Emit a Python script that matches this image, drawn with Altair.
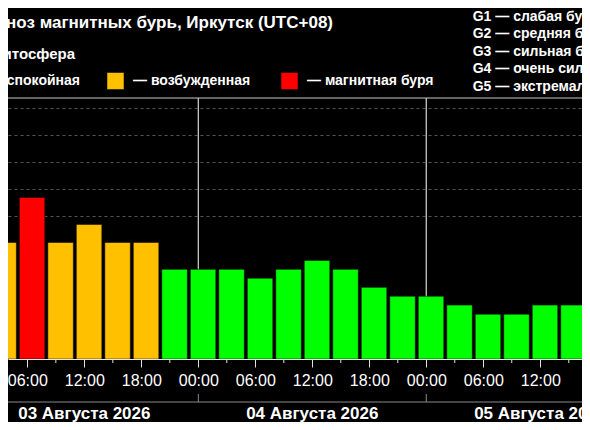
import altair as alt
import pandas as pd

# ---------------- data ----------------
TITLE = "Прогноз магнитных бурь, Иркутск (UTC+08)"
SUBTITLE = "Магнитосфера"
legend_labels = ["— спокойная", "— возбужденная", "— магнитная буря"]
level_names = ["calm", "active", "storm"]
level_fill = ["#00ff00", "#ffc000", "#ff0000"]
g_scale = [
    "G1 — слабая буря",
    "G2 — средняя буря",
    "G3 — сильная буря",
    "G4 — очень сильная буря",
    "G5 — экстремальная буря",
]

# start of each 3-hour interval (local time, UTC+08)
bar_start = [
    "2026-08-03T02:00:00", "2026-08-03T05:00:00", "2026-08-03T08:00:00",
    "2026-08-03T11:00:00", "2026-08-03T14:00:00", "2026-08-03T17:00:00",
    "2026-08-03T20:00:00", "2026-08-03T23:00:00", "2026-08-04T02:00:00",
    "2026-08-04T05:00:00", "2026-08-04T08:00:00", "2026-08-04T11:00:00",
    "2026-08-04T14:00:00", "2026-08-04T17:00:00", "2026-08-04T20:00:00",
    "2026-08-04T23:00:00", "2026-08-05T02:00:00", "2026-08-05T05:00:00",
    "2026-08-05T08:00:00", "2026-08-05T11:00:00", "2026-08-05T14:00:00",
]
kp = [4.0, 5.67, 4.0, 4.67, 4.0, 4.0, 3.0, 3.0, 3.0, 2.67, 3.0,
      3.33, 3.0, 2.33, 2.0, 2.0, 1.67, 1.33, 1.33, 1.67, 1.67]

day_start = ["2026-08-03T00:00:00", "2026-08-04T00:00:00", "2026-08-05T00:00:00"]
day_labels = ["03 Августа 2026", "04 Августа 2026", "05 Августа 2026"]
grid_kp = [5, 6, 7, 8, 9]
major_tick_first = "2026-08-03T06:00:00"
major_tick_last = "2026-08-05T12:00:00"
minor_tick_first = "2026-08-03T03:00:00"
minor_tick_last = "2026-08-05T15:00:00"
view_start = "2026-08-03T04:29:24"
view_end = "2026-08-05T15:52:06"

FONT = "Liberation Sans"
W, H = 574, 261


def iso(ts):
    return ts.strftime("%Y-%m-%dT%H:%M:%SZ")


def ms(ts):
    return int(pd.Timestamp(ts).value // 10**6)


starts = pd.to_datetime(bar_start)
centers = [iso(s + pd.Timedelta(hours=1.5)) for s in starts]
levels = ["calm" if v < 4 else ("active" if v < 5 else "storm") for v in kp]

days = pd.to_datetime(day_start)
day_lines = [iso(d) for d in days]
day_noon = [iso(d + pd.Timedelta(hours=12)) for d in days]

major_ticks = [ms(t) for t in pd.date_range(major_tick_first, major_tick_last, freq="6h")]
minor_ticks = [iso(t) for t in pd.date_range(minor_tick_first, minor_tick_last, freq="6h")]

xscale = alt.Scale(type="utc", domain=[ms(view_start), ms(view_end)])
yscale = alt.Scale(domain=[-1 / 3, 9.37], nice=False, zero=False)

x_axis = alt.Axis(
    values=major_ticks,
    format="%H:%M",
    tickSize=8, labelPadding=5, labelFont=FONT, labelFontSize=16, labelColor="#ffffff",
    tickColor="#e0e0e0", tickWidth=1, domainColor="#e8e8e8", domainWidth=1,
    labelFlush=False, labelAngle=0, title=None, grid=False, zindex=1,
)
y_axis = alt.Axis(values=grid_kp, grid=True, gridColor="#555555", gridDash=[3, 3],
                  gridWidth=1, labels=False, ticks=False, domain=False, title=None)


def X():
    return alt.X("t:T", scale=xscale, axis=x_axis)


# ---------------- bars ----------------
bars_df = pd.DataFrame({"t": centers, "kp": kp, "level": levels})
bars = alt.Chart(bars_df).mark_bar(size=25.5, stroke="black", strokeOpacity=0.5, strokeWidth=1).encode(
    x=X(),
    y=alt.Y("kp:Q", scale=yscale, axis=y_axis),
    y2=alt.datum(-1 / 3),
    color=alt.Color("level:N", scale=alt.Scale(domain=level_names, range=level_fill), legend=None),
)

# ---------------- lines ----------------
day_df = pd.DataFrame({"t": day_lines})
day_rules = alt.Chart(day_df).mark_rule(color="#c8c8c8", strokeWidth=1.3).encode(
    x=X(), y=alt.value(0), y2=alt.value(H))

minor = alt.Chart(pd.DataFrame({"t": minor_ticks})).mark_rule(color="#e0e0e0", strokeWidth=1).encode(
    x=X(), y=alt.value(H), y2=alt.value(H + 4))

top_line = alt.Chart(pd.DataFrame({"a": [0]})).mark_rule(color="#c8c8c8", strokeWidth=1).encode(
    x=alt.value(0), x2=alt.value(W), y=alt.value(0))

date_line = alt.Chart(pd.DataFrame({"a": [0]})).mark_rule(color="#8a8a8a", strokeWidth=1).encode(
    x=alt.value(0), x2=alt.value(W), y=alt.value(304))

date_ticks = alt.Chart(day_df).mark_rule(color="#8a8a8a", strokeWidth=1).encode(
    x=X(), y=alt.value(296), y2=alt.value(304))

date_text = alt.Chart(pd.DataFrame({"t": day_noon, "label": day_labels})).mark_text(
    font=FONT, fontSize=17, fontWeight="bold", color="white", align="center", baseline="alphabetic"
).encode(x=X(), y=alt.value(321), text="label:N")


# ---------------- header texts ----------------
def label(txt, x, y, size, weight="normal", align="left"):
    return alt.Chart(pd.DataFrame({"label": [txt]})).mark_text(
        font=FONT, fontSize=size, fontWeight=weight, color="white", align=align, baseline="alphabetic"
    ).encode(x=alt.value(x), y=alt.value(y), text="label:N")


def square(x, color):
    return alt.Chart(pd.DataFrame({"a": [0]})).mark_rect(
        color=color, stroke="black", strokeOpacity=0.5, strokeWidth=1
    ).encode(x=alt.value(x), x2=alt.value(x + 17), y=alt.value(-25.5), y2=alt.value(-8.5))


header = [
    label(TITLE, 325, -70, 17, "bold", "right"),
    label(SUBTITLE, 67, -39, 15, "bold", "right"),
    label(legend_labels[0], 72, -13, 14, "bold", "right"),
    label(legend_labels[1], 125, -13, 14, "bold"),
    label(legend_labels[2], 299, -13, 14, "bold"),
    square(-76, level_fill[0]),
    square(99, level_fill[1]),
    square(273, level_fill[2]),
]
for i, g in enumerate(g_scale):
    header.append(label(g, 464.7, -77.3 + 17.5 * i, 14, "bold"))

chart = alt.layer(
    day_rules, bars, minor, top_line, date_line, date_ticks, date_text, *header
).properties(
    width=W, height=H,
    autosize=alt.AutoSizeParams(type="none"),
    padding={"left": 0, "right": 0, "top": 90, "bottom": 63},
    background="#000000",
).configure_view(stroke=None)

chart.save("out.html", embed_options={"renderer": "svg", "actions": False})
